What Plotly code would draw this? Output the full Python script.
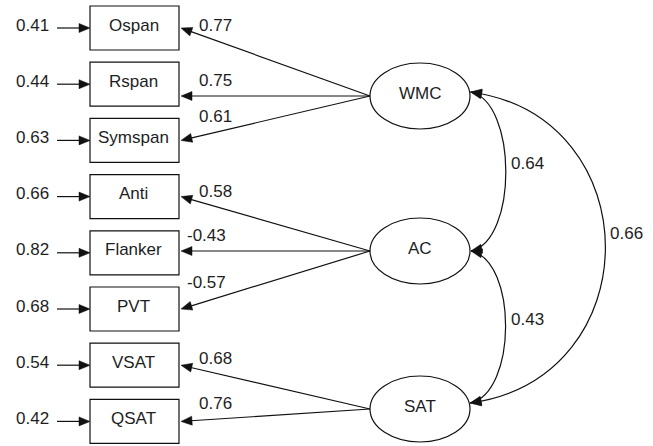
import math
import plotly.graph_objects as go

# ---------------- data ----------------
indicators = ["Ospan", "Rspan", "Symspan", "Anti", "Flanker", "PVT", "VSAT", "QSAT"]
residuals = [0.41, 0.44, 0.63, 0.66, 0.82, 0.68, 0.54, 0.42]
loadings = [0.77, 0.75, 0.61, 0.58, -0.43, -0.57, 0.68, 0.76]
indicator_factor = [0, 0, 0, 1, 1, 1, 2, 2]
factors = ["WMC", "AC", "SAT"]
corr_from = [0, 1, 0]
corr_to = [1, 2, 2]
correlations = [0.64, 0.43, 0.66]

# ---------------- layout constants ----------------
W, H = 653, 446
INK = "#111111"
TXT = "#1e1e1e"
LW = 1.2
FONT = dict(family="Liberation Sans, Arial, sans-serif", size=17, color=TXT)

BOX_X0, BOX_X1 = 90, 179
BOX_Y_FIRST, BOX_PITCH, BOX_H = 28, 56.2, 44
RES_LABEL_X, RES_ARROW_X0 = 32, 57
FAC_CX, FAC_RX, FAC_RY = 420, 50, 33
FAC_CY = [96, 251, 409]
CORR_ANCHOR_DY = [-4, 0, -6]
BULGE = {1: 35, 2: 135}
CTRL_DY = {1: 10, 2: 25}
HEAD_L, HEAD_W = 11, 4.5
TEXT_DY = -3

shapes = []
annotations = []


def arrowhead(tip, frm):
    dx, dy = tip[0] - frm[0], tip[1] - frm[1]
    n = math.hypot(dx, dy)
    ux, uy = dx / n, dy / n
    px, py = -uy, ux
    bx, by = tip[0] - HEAD_L * ux, tip[1] - HEAD_L * uy
    path = (f"M {tip[0]:.2f} {tip[1]:.2f} L {bx + HEAD_W * px:.2f} {by + HEAD_W * py:.2f} "
            f"L {bx - HEAD_W * px:.2f} {by - HEAD_W * py:.2f} Z")
    shapes.append(dict(type="path", path=path, fillcolor=INK, line=dict(color=INK, width=0.5),
                       xref="x", yref="y"))


def line(p0, p1):
    shapes.append(dict(type="line", x0=p0[0], y0=p0[1], x1=p1[0], y1=p1[1],
                       line=dict(color=INK, width=LW), xref="x", yref="y"))


def text(x, y, s, anchor="center"):
    annotations.append(dict(x=x, y=y + TEXT_DY, text=s, showarrow=False, font=FONT,
                            xanchor=anchor, yanchor="middle", xref="x", yref="y"))


def fmt(v):
    return f"{v:.2f}"


box_cy = [BOX_Y_FIRST + BOX_PITCH * i for i in range(len(indicators))]

# indicator boxes + residual arrows
for i, name in enumerate(indicators):
    cy = box_cy[i]
    shapes.append(dict(type="rect", x0=BOX_X0, x1=BOX_X1, y0=cy - BOX_H / 2, y1=cy + BOX_H / 2,
                       line=dict(color=INK, width=LW), fillcolor="white", xref="x", yref="y"))
    text((BOX_X0 + BOX_X1) / 2 - 1, cy, name)
    text(RES_LABEL_X, cy, fmt(residuals[i]))
    line((RES_ARROW_X0, cy), (BOX_X0 - HEAD_L + 1, cy))
    arrowhead((BOX_X0, cy), (RES_ARROW_X0, cy))

# factor ellipses
for f, name in enumerate(factors):
    shapes.append(dict(type="circle", x0=FAC_CX - FAC_RX, x1=FAC_CX + FAC_RX,
                       y0=FAC_CY[f] - FAC_RY, y1=FAC_CY[f] + FAC_RY,
                       line=dict(color=INK, width=LW), xref="x", yref="y"))
    text(FAC_CX, FAC_CY[f], name)

# loadings
for f in range(len(factors)):
    members = [i for i in range(len(indicators)) if indicator_factor[i] == f]
    for k, i in enumerate(members):
        start = (FAC_CX - FAC_RX, FAC_CY[f])
        if len(members) == 3 and k == 1:
            ty = FAC_CY[f]
        else:
            ty = box_cy[i]
        tip = (BOX_X1 + 2, ty)
        n = math.hypot(tip[0] - start[0], tip[1] - start[1])
        ux, uy = (tip[0] - start[0]) / n, (tip[1] - start[1]) / n
        line(start, (tip[0] - (HEAD_L - 1) * ux, tip[1] - (HEAD_L - 1) * uy))
        arrowhead(tip, start)
        slope = (start[1] - tip[1]) / (start[0] - tip[0])
        ly = ty - 14.5 + 36 * slope
        lx = 197 if loadings[i] >= 0 else 185
        text(lx, ly - TEXT_DY - 1, fmt(loadings[i]), anchor="left")


def on_ellipse(f):
    dy = CORR_ANCHOR_DY[f]
    x = FAC_CX + FAC_RX * math.sqrt(1 - (dy / FAC_RY) ** 2) + 1
    return (x, FAC_CY[f] + dy)


def bez(p0, p1, p2, p3, t):
    a, b, c, d = (1 - t) ** 3, 3 * (1 - t) ** 2 * t, 3 * (1 - t) * t ** 2, t ** 3
    return (a * p0[0] + b * p1[0] + c * p2[0] + d * p3[0],
            a * p0[1] + b * p1[1] + c * p2[1] + d * p3[1])


# factor correlations
for a, b, r in zip(corr_from, corr_to, correlations):
    dist = b - a
    p0 = on_ellipse(a)
    p3 = on_ellipse(b)
    d = BULGE[dist] / 0.75
    p1 = (p0[0] + d, p0[1] + CTRL_DY[dist])
    p2 = (p3[0] + d, p3[1] - CTRL_DY[dist])
    path = (f"M {p0[0]:.2f} {p0[1]:.2f} C {p1[0]:.2f} {p1[1]:.2f} "
            f"{p2[0]:.2f} {p2[1]:.2f} {p3[0]:.2f} {p3[1]:.2f}")
    shapes.append(dict(type="path", path=path, line=dict(color=INK, width=LW), xref="x", yref="y"))
    arrowhead(p0, p1)
    arrowhead(p3, p2)
    mid = bez(p0, p1, p2, p3, 0.47)
    xmax = bez(p0, p1, p2, p3, 0.5)[0]
    text(xmax + 3, mid[1] - TEXT_DY - 1, fmt(r), anchor="left")

fig = go.Figure()
fig.update_layout(
    width=W, height=H, autosize=False,
    margin=dict(l=0, r=0, t=0, b=0),
    paper_bgcolor="white", plot_bgcolor="white",
    xaxis=dict(range=[0, W], visible=False, fixedrange=True),
    yaxis=dict(range=[H, 0], visible=False, fixedrange=True),
    shapes=shapes, annotations=annotations, showlegend=False,
)
fig.write_html(
    "out.html",
    config={"displayModeBar": False, "staticPlot": True},
    post_script="document.body.style.margin='0';document.body.style.overflow='hidden';",
)
